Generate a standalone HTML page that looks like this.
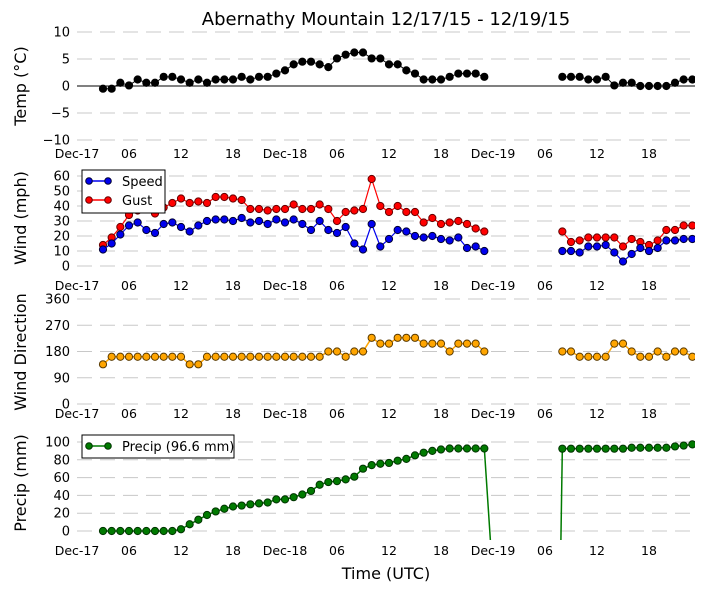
<!DOCTYPE html>
<html><head><meta charset="utf-8">
<style>
html,body{margin:0;padding:0;background:#fff;width:705px;height:593px;overflow:hidden;}
svg{display:block;font-family:"DejaVu Sans","Liberation Sans",sans-serif;}
</style></head>
<body>
<svg id="chart" width="705" height="593" viewBox="0 0 705 593">
<defs>
<clipPath id="cp0"><rect x="77" y="32" width="618" height="108"/></clipPath>
<clipPath id="cp1"><rect x="77" y="168" width="618" height="105"/></clipPath>
<clipPath id="cp2"><rect x="77" y="292" width="618" height="118"/></clipPath>
<clipPath id="cp3"><rect x="77" y="430" width="618" height="110"/></clipPath>
</defs>
<text x="386" y="25" font-size="18" text-anchor="middle">Abernathy Mountain 12/17/15 - 12/19/15</text>
<text x="386" y="579" font-size="16" text-anchor="middle">Time (UTC)</text>
</svg>
<script>
const hours = [3,4,5,6,7,8,9,10,11,12,13,14,15,16,17,18,19,20,21,22,23,24,25,26,27,28,29,30,31,32,33,34,35,36,37,38,39,40,41,42,43,44,45,46,47,48,49,50,51,52,53,54,55,56,57,58,59,60,61,62,63,64,65,66,67,68,69,70,71];
const tempVals = [-0.5,-0.5,0.6,0.1,1.2,0.6,0.6,1.7,1.7,1.2,0.6,1.2,0.6,1.2,1.2,1.2,1.7,1.2,1.7,1.7,2.3,2.9,4.0,4.5,4.5,4.0,3.5,5.1,5.8,6.2,6.2,5.1,5.1,4.0,4.0,2.9,2.3,1.2,1.2,1.2,1.7,2.3,2.3,2.3,1.7,null,null,null,null,null,null,null,null,1.7,1.7,1.7,1.2,1.2,1.7,0.1,0.6,0.6,0,0,0,0,0.6,1.2,1.2];
const speedVals = [11,15,21,27,29,24,22,28,29,26,23,27,30,31,31,30,32,29,30,28,31,29,31,28,24,30,24,22,26,15,11,28,13,18,24,23,20,19,20,18,17,19,12,13,10,null,null,null,null,null,null,null,null,10,10,9,13,13,14,9,3,8,12,10,12,17,17,18,18];
const gustVals = [14,19,26,34,37,40,35,39,42,45,42,43,42,46,46,45,44,38,38,37,38,38,41,38,38,41,38,30,36,37,38,58,40,36,40,36,36,29,32,28,29,30,28,25,23,null,null,null,null,null,null,null,null,23,16,17,19,19,19,19,13,18,16,14,17,24,24,27,27];
const dirVals = [136,162,162,162,162,162,162,162,162,162,136,136,162,162,162,162,162,162,162,162,162,162,162,162,162,162,180,180,162,180,180,227,207,207,227,227,227,207,207,207,180,207,207,207,180,null,null,null,null,null,null,null,null,180,180,162,162,162,162,207,207,180,162,162,180,162,180,180,162];
const precipVals = [0,0,0,0,0,0,0,0,0,2,7.6,12.6,18,22,25,27.5,28.6,30,31,32,35.5,35.5,38,41,45,52,55,56,58,61,70,74,75.6,76.5,79,81,85,88,90,91.6,92.7,92.7,92.7,92.7,92.7,-55,null,null,null,null,null,null,-530,92.5,92.5,92.5,92.5,92.5,92.5,92.5,92.5,93.5,93.5,93.5,93.5,93.5,95,96,97.3];
const xTickHours = [0,6,12,18,24,30,36,42,48,54,60,66];
const xTickLabels = ["Dec-17","06","12","18","Dec-18","06","12","18","Dec-19","06","12","18"];
const tempTicks = [10,5,0,-5,-10];
const windTicks = [60,50,40,30,20,10,0];
const dirTicks = [360,270,180,90,0];
const precipTicks = [100,80,60,40,20,0];

const NS = "http://www.w3.org/2000/svg";
const svg = document.getElementById('chart');
const X0 = 77, X1 = 695;
function xScale(h){ return X0 + h * 52/6; }
function mk(tag, attrs, parent){
  const e = document.createElementNS(NS, tag);
  for (const k in attrs) e.setAttribute(k, attrs[k]);
  (parent||svg).appendChild(e);
  return e;
}
const panels = [
  {name:'temp', y0:86, k:5.4, ticks:tempTicks, clip:'cp0', labelY:158, title:'Temp (°C)', titleY:86, zeroLine:true},
  {name:'wind', y0:266, k:1.5, ticks:windTicks, clip:'cp1', labelY:290, title:'Wind (mph)', titleY:218},
  {name:'dir', y0:404, k:105/360, ticks:dirTicks, clip:'cp2', labelY:418, title:'Wind Direction', titleY:352},
  {name:'precip', y0:531, k:0.89, ticks:precipTicks, clip:'cp3', labelY:555, title:'Precip (mm)', titleY:483}
];
panels.forEach(p => {
  p.y = v => p.y0 - v * p.k;
  const g = mk('g', {});
  
  
  p.ticks.forEach(t => {
    const yy = p.y(t);
    const gl = mk('line', {x1:X0, x2:X1, y1:yy, y2:yy, stroke:'#c8c8c8', 'stroke-width':1, 'stroke-dasharray':'15,8'}, g);
    
    
    const tl = mk('text', {x:70, y:yy+4.5, 'font-size':13, 'text-anchor':'end'}, g);
    tl.textContent = String(t).replace('-', '\u2212');
    
    
  });
  xTickHours.forEach((h,i) => {
    const tl = mk('text', {x:xScale(h), y:p.labelY, 'font-size':12.5, 'text-anchor':'middle'}, g);
    tl.textContent = xTickLabels[i];
    
    
  });
  const tt = mk('text', {x:0, y:0, 'font-size':16, 'text-anchor':'middle', transform:'translate(26,'+p.titleY+') rotate(-90)'}, g);
  tt.textContent = p.title;
  
  
  if (p.zeroLine){
    const zl = mk('line', {x1:X0, x2:X1, y1:p.y(0), y2:p.y(0), stroke:'#000', 'stroke-width':1}, g);
    
    
  }
});
function series(p, vals, color, edge, name, markers, lw){
  const g = mk('g', {'clip-path':'url(#'+p.clip+')'});
  
  
  let d = '', pen = false;
  hours.forEach((h,i) => {
    const v = vals[i];
    if (v === null){ pen = false; return; }
    d += (pen ? 'L' : 'M') + xScale(h).toFixed(2) + ' ' + p.y(v).toFixed(2) + ' ';
    pen = true;
  });
  const path = mk('path', {d:d, fill:'none', stroke:color, 'stroke-width':lw}, g);
  
  
  hours.forEach((h,i) => {
    const v = vals[i];
    if (v === null || !markers(v)) return;
    const c = mk('circle', {cx:xScale(h), cy:p.y(v), r:3.6, fill:color, stroke:edge, 'stroke-width':1}, g);
    
    
  });
}
series(panels[0], tempVals, '#000', '#000', 'temp', v=>true, 1);
series(panels[1], gustVals, '#ff0000', '#600', 'gust', v=>true, 1.2);
series(panels[1], speedVals, '#0000ee', '#003', 'speed', v=>true, 1.2);
series(panels[2], dirVals, '#ffa500', '#5a3a00', 'direction', v=>true, 1.5);
series(panels[3], precipVals, '#007a00', '#003300', 'precip', v=>v>=0, 1.5);

function legend(x, y, w, h, items, name){
  const g = mk('g', {});
  
  
  mk('rect', {x:x, y:y, width:w, height:h, fill:'#fff', stroke:'#000', 'stroke-width':1}, g);
  items.forEach((it,i) => {
    const cy = y + 11 + i*19;
    mk('line', {x1:x+7, x2:x+26, y1:cy, y2:cy, stroke:it.c, 'stroke-width':1.5}, g);
    mk('circle', {cx:x+7, cy:cy, r:3.3, fill:it.c, stroke:it.e}, g);
    mk('circle', {cx:x+26, cy:cy, r:3.3, fill:it.c, stroke:it.e}, g);
    const t = mk('text', {x:x+40, y:cy+5, 'font-size':13}, g);
    t.textContent = it.t;
    
    
  });
}
legend(82, 170, 83, 43, [{c:'#0000ee',e:'#003',t:'Speed'},{c:'#ff0000',e:'#600',t:'Gust'}], 'wind-legend');
legend(82, 435, 152, 23, [{c:'#007a00',e:'#003300',t:'Precip (96.6 mm)'}], 'precip-legend');
</script>
</body></html>
